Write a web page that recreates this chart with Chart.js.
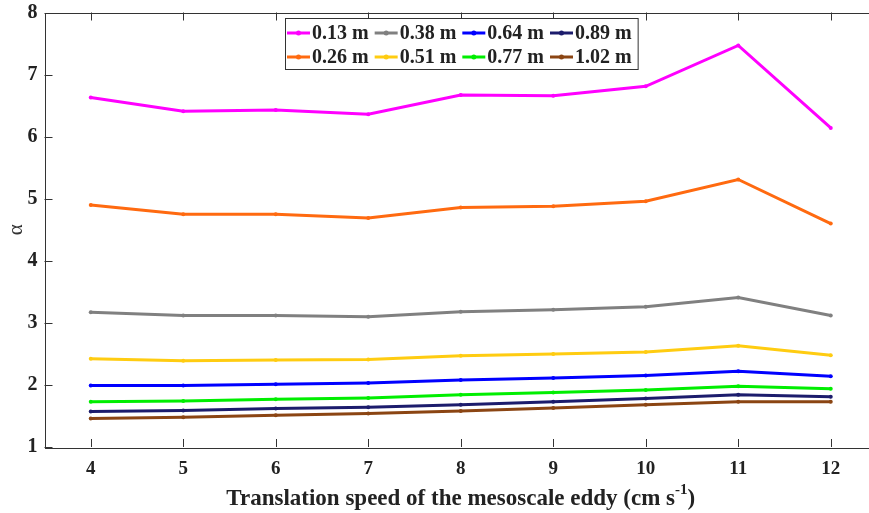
<!DOCTYPE html>
<html>
<head>
<meta charset="utf-8">
<script src="https://cdn.jsdelivr.net/npm/chart.js@4/dist/chart.umd.min.js"></script>
<style>
  html, body { margin: 0; padding: 0; background: #fff; overflow: hidden; }
  #wrap { width: 900px; height: 513px; }
</style>
</head>
<body>
<div id="wrap"><canvas id="MyChart"></canvas></div>
<script>
// translation speed of the eddy (cm/s)
const speeds = ["4", "5", "6", "7", "8", "9", "10", "11", "12"];
const depthLabels = ["0.13 m", "0.26 m", "0.38 m", "0.51 m", "0.64 m", "0.77 m", "0.89 m", "1.02 m"];

const d013 = [6.63, 6.41, 6.43, 6.36, 6.67, 6.66, 6.81, 7.47, 6.14];
const d026 = [4.90, 4.75, 4.75, 4.69, 4.86, 4.88, 4.96, 5.31, 4.60];
const d038 = [3.17, 3.12, 3.12, 3.10, 3.18, 3.21, 3.26, 3.41, 3.12];
const d051 = [2.42, 2.39, 2.40, 2.41, 2.47, 2.50, 2.53, 2.63, 2.48];
const d064 = [1.99, 1.99, 2.01, 2.03, 2.08, 2.11, 2.15, 2.22, 2.14];
const d077 = [1.73, 1.74, 1.77, 1.79, 1.84, 1.88, 1.92, 1.98, 1.94];
const d089 = [1.57, 1.59, 1.62, 1.64, 1.68, 1.73, 1.78, 1.84, 1.81];
const d102 = [1.46, 1.48, 1.51, 1.54, 1.58, 1.63, 1.68, 1.73, 1.73];

const yTicks = [1, 2, 3, 4, 5, 6, 7, 8];

const colors = ["#ff00ff", "#ff6a10", "#808080", "#ffcc11", "#0000ff", "#00ee00", "#1c1c6c", "#8b4513"];
const series = [d013, d026, d038, d051, d064, d077, d089, d102];

const serif = "'Liberation Serif', 'Times New Roman', serif";

// MATLAB-ish box, inward ticks, boxed legend and x title with superscript
const matlabBox = {
  id: "matlabBox",
  afterDraw(chart) {
    const ctx = chart.ctx;
    const a = chart.chartArea;
    const xs = chart.scales.x, ys = chart.scales.y;
    const tl = 8;
    ctx.save();
    ctx.strokeStyle = "#333";
    ctx.lineWidth = 1;
    ctx.beginPath();
    for (let i = 0; i < xs.ticks.length; i++) {
      const px = Math.round(xs.getPixelForTick(i)) + 0.5;
      ctx.moveTo(px, a.bottom); ctx.lineTo(px, a.bottom - tl);
      ctx.moveTo(px, a.top); ctx.lineTo(px, a.top + tl);
    }
    yTicks.forEach(v => {
      const py = Math.round(ys.getPixelForValue(v)) + 0.5;
      ctx.moveTo(a.left, py); ctx.lineTo(a.left + tl, py);
      ctx.moveTo(a.right, py); ctx.lineTo(a.right - tl, py);
    });
    ctx.stroke();
    ctx.strokeRect(Math.round(a.left) + 0.5, Math.round(a.top) + 0.5,
                   Math.round(a.right - a.left), Math.round(a.bottom - a.top));

    // legend: 2 rows, column-major
    ctx.font = "bold 20px " + serif;
    ctx.textBaseline = "middle";
    const sample = 25;
    const gap = 6;
    const boxL = 285, boxT = 18, rowH = 24;
    const cols = [];
    for (let c = 0; c < 4; c++) {
      const w = Math.max(ctx.measureText(depthLabels[c * 2]).width,
                         ctx.measureText(depthLabels[c * 2 + 1]).width);
      cols.push(w);
    }
    let boxW = 2;
    cols.forEach(w => { boxW += sample + w + gap; });
    const boxH = 51;
    ctx.fillStyle = "#fff";
    ctx.fillRect(boxL, boxT, boxW, boxH);
    ctx.strokeStyle = "#333";
    ctx.strokeRect(boxL + 0.5, boxT + 0.5, boxW, boxH);
    let x = boxL + 2;
    for (let c = 0; c < 4; c++) {
      for (let r = 0; r < 2; r++) {
        const k = c * 2 + r;
        const y = boxT + 15 + r * rowH;
        ctx.strokeStyle = colors[k];
        ctx.lineWidth = 3;
        ctx.beginPath();
        ctx.moveTo(x, y); ctx.lineTo(x + sample - 2, y);
        ctx.stroke();
        ctx.fillStyle = colors[k];
        ctx.beginPath();
        ctx.arc(x + (sample - 2) / 2, y, 2.5, 0, Math.PI * 2);
        ctx.fill();
        ctx.fillStyle = "#222";
        ctx.textAlign = "left";
        ctx.fillText(depthLabels[k], x + sample, y + 1);
      }
      x += sample + cols[c] + gap;
    }

    // x axis title
    const main = "Translation speed of the mesoscale eddy (cm s";
    const sup = "-1";
    const tail = ")";
    const big = "bold 23px " + serif, small = "bold 15px " + serif;
    ctx.font = big;
    const w1 = ctx.measureText(main).width;
    const w3 = ctx.measureText(tail).width;
    ctx.font = small;
    const w2 = ctx.measureText(sup).width;
    let tx = (a.left + a.right) / 2 - (w1 + w2 + w3) / 2;
    const ty = 499;
    ctx.fillStyle = "#222";
    ctx.textAlign = "left";
    ctx.textBaseline = "middle";
    ctx.font = big;
    ctx.fillText(main, tx, ty);
    ctx.font = small;
    ctx.fillText(sup, tx + w1, ty - 9);
    ctx.font = big;
    ctx.fillText(tail, tx + w1 + w2, ty);
    ctx.restore();
  }
};

function createChart() {
  const data = {
    labels: speeds,
    datasets: series.map((vals, i) => ({
      label: depthLabels[i],
      data: vals,
      borderColor: colors[i],
      backgroundColor: colors[i],
      borderWidth: 3,
      pointRadius: 2,
      pointBorderWidth: 0,
      tension: 0,
      fill: false,
    })),
  };

  const config = {
    type: "line",
    data: data,
    plugins: [matlabBox],
    options: {
      responsive: true,
      maintainAspectRatio: false,
      animation: false,
      layout: { padding: { top: 12.5, right: 23, left: 0, bottom: 0 } },
      plugins: {
        legend: { display: false },
        tooltip: { enabled: false },
      },
      scales: {
        x: {
          offset: true,
          grid: { display: false, drawTicks: false },
          border: { display: false },
          ticks: {
            padding: 11,
            color: "#222",
            font: { family: serif, size: 19, weight: "bold" },
          },
          afterFit(scale) { scale.height = 66; },
        },
        y: {
          min: 1,
          max: 8,
          grid: { display: false, drawTicks: false },
          border: { display: false },
          ticks: {
            stepSize: 1,
            padding: 7,
            color: "#222",
            font: { family: serif, size: 20, weight: "bold" },
          },
          title: {
            display: true,
            text: "α",
            color: "#333",
            padding: { top: 4, bottom: 0 },
            font: { family: serif, size: 21 },
          },
          afterFit(scale) {
            scale.width = 44.5;
            scale.paddingTop = 0;
            scale.paddingBottom = 0;
          },
        },
      },
    },
  };
  const myChart = new Chart(document.getElementById("MyChart"), config);
  myChart.update();
}
createChart();
</script>
</body>
</html>
